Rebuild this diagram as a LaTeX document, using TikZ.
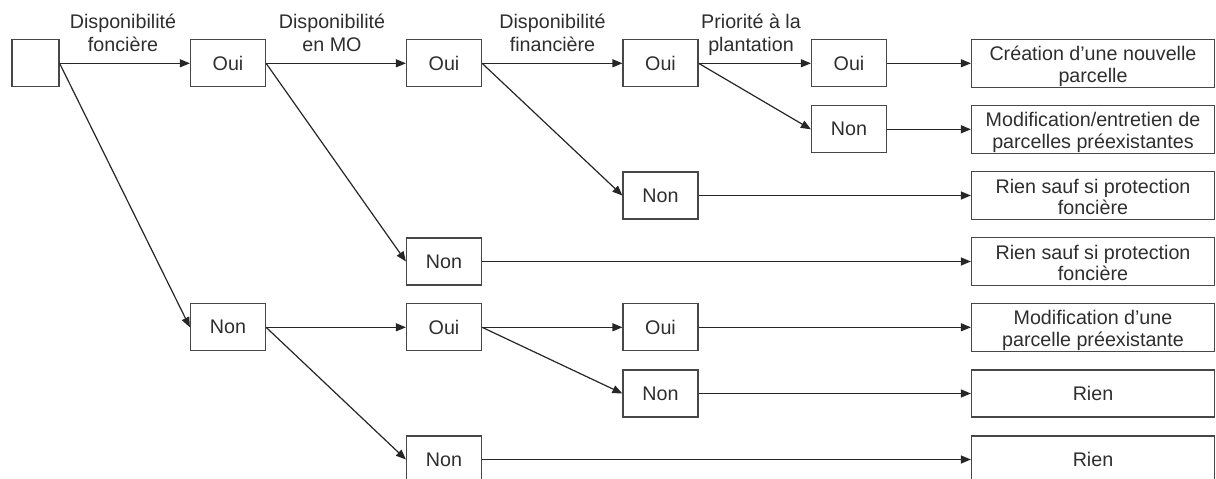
\documentclass[tikz,border=0pt]{standalone}
\usepackage{fontspec}
\setmainfont{Liberation Sans}
\usetikzlibrary{arrows.meta}

% type sizes for box texts and branch labels
\newcommand\dgBoxFont{\fontsize{19.7pt}{21.6pt}\selectfont}
\newcommand\dgLabFont{\fontsize{19.7pt}{22.7pt}\selectfont}
% invisible rules that set the vertical extent of two-line texts
\newcommand\boxHi{\rule{0pt}{21.6pt}}
\newcommand\boxLo{\rule[-5pt]{0pt}{5pt}}
\newcommand\labHi{\rule{0pt}{15pt}}
\newcommand\labLo{\rule[-7pt]{0pt}{7pt}}

\begin{document}
\begin{tikzpicture}[x=1pt,y=-1pt,
  box/.style={draw=black!72, line width=1.2pt, minimum width=75pt,
              minimum height=47pt, inner sep=0pt, text=black!82,
              align=center, font=\dgBoxFont},
  result/.style={box, minimum width=243pt},
  lab/.style={inner sep=0pt, align=center, text=black!82, font=\dgLabFont},
  arr/.style={draw=black!85, line width=1.2pt,
              -{Triangle[length=10pt,width=8pt]}}]
\useasboundingbox (0,0) rectangle (1216,479);
\clip (0,0) rectangle (1216,479);

% root
\node[box, minimum width=47pt] (s) at (35.5,63.3) {};

% first decision: land availability
\node[box] (a1) at (228,63.3) {Oui};
\node[box] (a2) at (228,327.3) {Non};

% second decision: labour availability
\node[box] (b1) at (444,63.3) {Oui};
\node[box] (b2) at (444,261.5) {Non};
\node[box] (b3) at (444,327.3) {Oui};
\node[box] (b4) at (444,459.5) {Non};

% third decision: financial availability
\node[box] (c1) at (660.5,63.3) {Oui};
\node[box] (c2) at (660.5,195.5) {Non};
\node[box] (c3) at (660.5,327.3) {Oui};
\node[box] (c4) at (660.5,393.5) {Non};

% fourth decision: planting priority
\node[box] (d1) at (849,63.3) {Oui};
\node[box] (d2) at (849,129.3) {Non};

% outcomes
\node[result] (r1) at (1093,63.3) {\boxHi Création d’une nouvelle\\parcelle\boxLo};
\node[result] (r2) at (1093,129.3) {\boxHi Modification/entretien de\\parcelles préexistantes\boxLo};
\node[result] (r3) at (1093,195.5) {\boxHi Rien sauf si protection\\foncière\boxLo};
\node[result] (r4) at (1093,261.5) {\boxHi Rien sauf si protection\\foncière\boxLo};
\node[result] (r5) at (1093,327.3) {\boxHi Modification d’une\\parcelle préexistante\boxLo};
\node[result] (r6) at (1093,393.5) {Rien};
\node[result] (r7) at (1093,459.5) {Rien};

% branch labels
\node[lab] (l1) at (123,35.65) {\labHi Disponibilité\\foncière\labLo};
\node[lab] (l2) at (332,35.65) {\labHi Disponibilité\\en MO\labLo};
\node[lab] (l3) at (552.5,35.65) {\labHi Disponibilité\\financière\labLo};
\node[lab] (l4) at (751,35.65) {\labHi Priorité à la\\plantation\labLo};

% connectors
\draw[arr] (s.east) -- (a1.west);
\draw[arr] (s.east) -- (a2.west);
\draw[arr] (a1.east) -- (b1.west);
\draw[arr] (a1.east) -- (b2.west);
\draw[arr] (b1.east) -- (c1.west);
\draw[arr] (b1.east) -- (c2.west);
\draw[arr] (c1.east) -- (d1.west);
\draw[arr] (c1.east) -- (d2.west);
\draw[arr] (d1.east) -- (r1.west);
\draw[arr] (d2.east) -- (r2.west);
\draw[arr] (c2.east) -- (r3.west);
\draw[arr] (b2.east) -- (r4.west);
\draw[arr] (a2.east) -- (b3.west);
\draw[arr] (a2.east) -- (b4.west);
\draw[arr] (b3.east) -- (c3.west);
\draw[arr] (b3.east) -- (c4.west);
\draw[arr] (c3.east) -- (r5.west);
\draw[arr] (c4.east) -- (r6.west);
\draw[arr] (b4.east) -- (r7.west);
\end{tikzpicture}
\end{document}
